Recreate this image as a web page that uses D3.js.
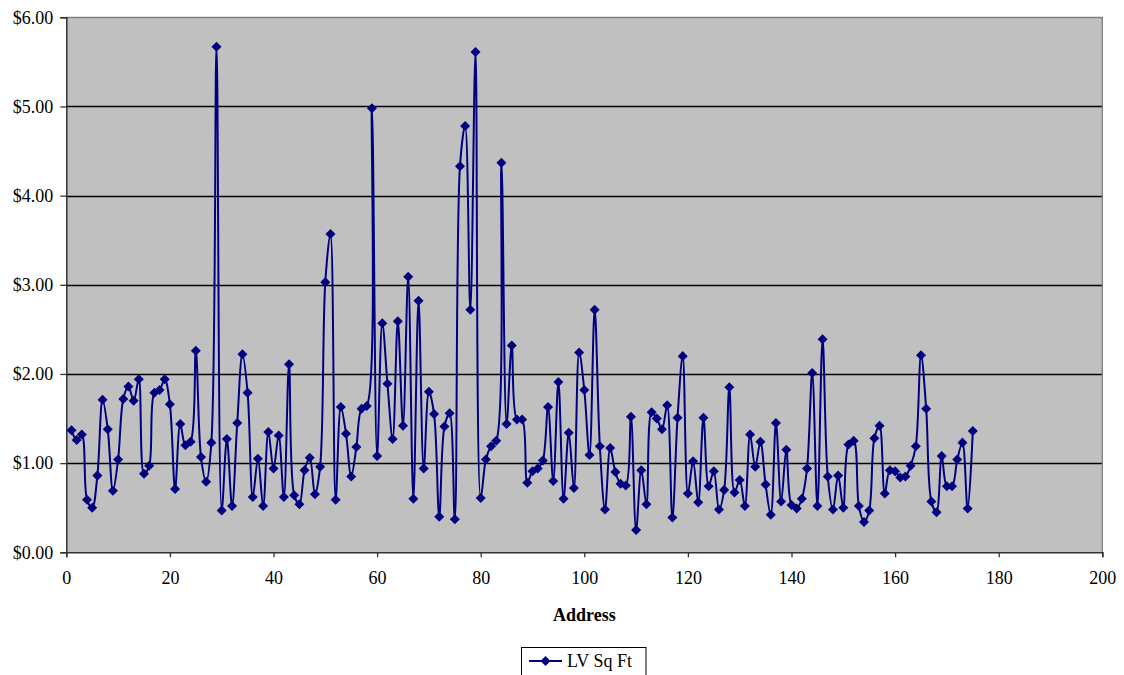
<!DOCTYPE html>
<html>
<head>
<meta charset="utf-8">
<script src="https://cdn.jsdelivr.net/npm/d3@7"></script>
<style>
  html, body { margin: 0; padding: 0; background: #ffffff; }
  svg { display: block; }
  text { font-family: "Liberation Serif", "Times New Roman", serif; fill: #000; }
</style>
</head>
<body>
<svg id="chart" width="1124" height="675"></svg>
<script>
// Land value per square foot, by address number
const addresses = d3.range(1, 176);
const lvSqFt = [
  1.37, 1.26, 1.32, 0.59, 0.50, 0.86, 1.71, 1.38, 0.69, 1.04,
  1.72, 1.86, 1.70, 1.94, 0.88, 0.97, 1.79, 1.82, 1.94, 1.66,
  0.71, 1.44, 1.20, 1.24, 2.26, 1.07, 0.79, 1.23, 5.67, 0.47,
  1.27, 0.52, 1.45, 2.22, 1.79, 0.62, 1.05, 0.52, 1.35, 0.94,
  1.31, 0.62, 2.11, 0.64, 0.54, 0.92, 1.06, 0.65, 0.96, 3.03,
  3.57, 0.59, 1.63, 1.33, 0.85, 1.18, 1.61, 1.64, 4.98, 1.08,
  2.57, 1.89, 1.27, 2.59, 1.42, 3.09, 0.60, 2.82, 0.94, 1.80,
  1.55, 0.40, 1.41, 1.56, 0.37, 4.33, 4.78, 2.72, 5.61, 0.61,
  1.04, 1.19, 1.25, 4.37, 1.44, 2.32, 1.49, 1.49, 0.78, 0.91,
  0.94, 1.03, 1.63, 0.80, 1.91, 0.60, 1.34, 0.72, 2.24, 1.82,
  1.09, 2.72, 1.19, 0.48, 1.17, 0.90, 0.77, 0.75, 1.52, 0.25,
  0.92, 0.54, 1.57, 1.50, 1.38, 1.65, 0.39, 1.51, 2.20, 0.66,
  1.02, 0.56, 1.51, 0.74, 0.91, 0.48, 0.70, 1.85, 0.67, 0.81,
  0.52, 1.32, 0.96, 1.24, 0.76, 0.42, 1.45, 0.57, 1.15, 0.53,
  0.49, 0.60, 0.94, 2.01, 0.52, 2.39, 0.85, 0.48, 0.86, 0.50,
  1.21, 1.25, 0.52, 0.34, 0.47, 1.28, 1.42, 0.66, 0.92, 0.91,
  0.84, 0.85, 0.97, 1.19, 2.21, 1.61, 0.57, 0.45, 1.08, 0.74,
  0.74, 1.04, 1.23, 0.49, 1.36
];
const xTicks = [0, 20, 40, 60, 80, 100, 120, 140, 160, 180, 200];
const yTicks = [0, 1, 2, 3, 4, 5, 6];
const xTitle = "Address";
const seriesName = "LV Sq Ft";

const lineColor = "#000080";
const svg = d3.select("#chart");

const plot = { left: 66.3, right: 1102.3, top: 17.3, bottom: 552.3 };

const x = d3.scaleLinear().domain([0, 200]).range([plot.left, plot.right]);
const y = d3.scaleLinear().domain([0, 6]).range([plot.bottom, plot.top]);

// Plot area background
svg.append("rect")
  .attr("x", plot.left).attr("y", plot.top)
  .attr("width", plot.right - plot.left).attr("height", plot.bottom - plot.top)
  .attr("fill", "#c0c0c0");

// Horizontal gridlines
svg.append("g")
  .selectAll("line")
  .data(yTicks.filter(d => d > 0 && d < 6))
  .join("line")
  .attr("x1", plot.left).attr("x2", plot.right)
  .attr("y1", d => Math.round(y(d)) + 0.5).attr("y2", d => Math.round(y(d)) + 0.5)
  .attr("stroke", "#000").attr("stroke-width", 1.3);

// Top and right border of plot area
svg.append("path")
  .attr("d", `M${plot.left},${Math.round(plot.top) + 0.5}H${plot.right}V${plot.bottom}`)
  .attr("fill", "none").attr("stroke", "#808080").attr("stroke-width", 1.3);

// Y axis
const yAxis = d3.axisLeft(y)
  .tickValues(yTicks)
  .tickFormat(d3.format("$.2f"))
  .tickSize(6).tickPadding(7);
const gy = svg.append("g").attr("transform", `translate(${plot.left},0)`).call(yAxis);
gy.select(".domain").attr("stroke", "#333").attr("stroke-width", 1.5);
gy.selectAll(".tick line").attr("stroke", "#333").attr("stroke-width", 1.3);
gy.selectAll(".tick text").attr("font-size", 18).attr("font-family", "Liberation Serif").attr("fill", "#000");

// X axis
const xAxis = d3.axisBottom(x)
  .tickValues(xTicks)
  .tickFormat(d3.format("d"))
  .tickSize(5).tickPadding(14);
const gx = svg.append("g").attr("transform", `translate(0,${plot.bottom})`).call(xAxis);
gx.select(".domain").attr("stroke", "#333").attr("stroke-width", 1.5);
gx.selectAll(".tick line").attr("stroke", "#333").attr("stroke-width", 1.3);
gx.selectAll(".tick text").attr("font-size", 18).attr("font-family", "Liberation Serif").attr("fill", "#000");

// X axis title
svg.append("text")
  .attr("x", (plot.left + plot.right) / 2).attr("y", 621)
  .attr("text-anchor", "middle")
  .attr("font-size", 18).attr("font-weight", "bold")
  .text(xTitle);

// Series line
const points = addresses.map((a, i) => ({ a, v: lvSqFt[i] }));
const line = d3.line()
  .x(d => x(d.a)).y(d => y(d.v))
  .curve(d3.curveCatmullRom.alpha(0.5));
svg.append("path")
  .datum(points)
  .attr("d", line)
  .attr("fill", "none")
  .attr("stroke", lineColor).attr("stroke-width", 2);

// Diamond markers
const diamond = d3.symbol().type(d3.symbolDiamond2).size(64);
svg.append("g")
  .selectAll("path")
  .data(points)
  .join("path")
  .attr("transform", d => `translate(${x(d.a)},${y(d.v)})`)
  .attr("d", diamond)
  .attr("fill", lineColor);

// Legend
const legend = svg.append("g");
legend.append("rect")
  .attr("x", 521.5).attr("y", 647.5)
  .attr("width", 124.5).attr("height", 40)
  .attr("fill", "#fff").attr("stroke", "#000").attr("stroke-width", 1);
legend.append("line")
  .attr("x1", 529).attr("x2", 562).attr("y1", 661).attr("y2", 661)
  .attr("stroke", lineColor).attr("stroke-width", 2);
legend.append("path")
  .attr("transform", "translate(545.5,661)")
  .attr("d", diamond)
  .attr("fill", lineColor);
legend.append("text")
  .attr("x", 567).attr("y", 667)
  .attr("font-size", 18)
  .text(seriesName);
</script>
</body>
</html>
